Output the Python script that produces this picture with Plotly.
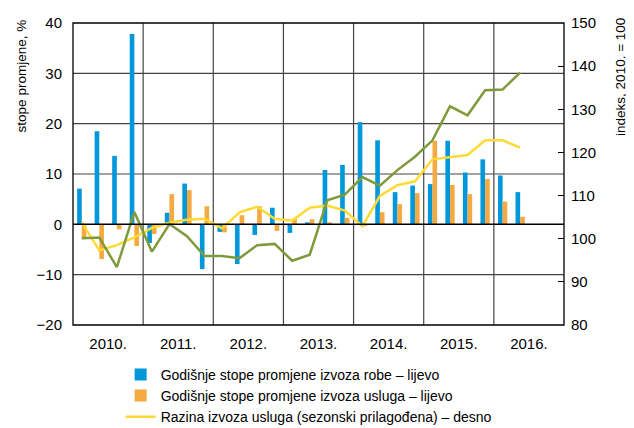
import plotly.graph_objects as go

# Quarters 2010 Q1 .. 2016 Q2
quarters = [
    "2010 Q1", "2010 Q2", "2010 Q3", "2010 Q4",
    "2011 Q1", "2011 Q2", "2011 Q3", "2011 Q4",
    "2012 Q1", "2012 Q2", "2012 Q3", "2012 Q4",
    "2013 Q1", "2013 Q2", "2013 Q3", "2013 Q4",
    "2014 Q1", "2014 Q2", "2014 Q3", "2014 Q4",
    "2015 Q1", "2015 Q2", "2015 Q3", "2015 Q4",
    "2016 Q1", "2016 Q2",
]
year_labels = ["2010.", "2011.", "2012.", "2013.", "2014.", "2015.", "2016."]
left_ticks = [-20, -10, 0, 10, 20, 30, 40]
right_ticks = [80, 90, 100, 110, 120, 130, 140, 150]

# Annual growth of goods exports (%), left axis
goods_growth = [7.1, 18.5, 13.6, 37.8,
                -3.7, 2.3, 8.1, -8.9,
                -1.5, -7.9, -2.1, 3.3,
                -1.7, 0.4, 10.8, 11.8,
                20.3, 16.7, 6.4, 7.7,
                8.0, 16.6, 10.3, 12.9,
                9.7, 6.4]
# Annual growth of services exports (%), left axis
services_growth = [-2.7, -6.9, -1.0, -4.3,
                   -1.9, 6.0, 6.8, 3.6,
                   -1.6, 1.8, 3.6, -1.3,
                   1.1, 1.0, 0.4, 1.3,
                   -0.3, 2.4, 4.0, 6.2,
                   16.6, 7.8, 6.0, 9.0,
                   4.5, 1.5]
# Level of services exports, seasonally adjusted (index 2010 = 100), right axis
services_level = [103.8, 97.3, 98.5, 100.3,
                  102.5, 103.7, 104.4, 104.6,
                  102.4, 106.1, 107.4, 104.6,
                  104.2, 107.2, 107.7, 106.5,
                  102.9, 109.9, 112.4, 113.3,
                  118.4, 118.9, 119.4, 122.8,
                  122.8, 121.1]
# Level of goods exports (index 2010 = 100), right axis
goods_level = [100.1, 100.3, 93.4, 106.2,
               97.0, 103.4, 100.6, 96.0,
               96.0, 95.5, 98.5, 98.8,
               94.9, 96.3, 108.9, 110.2,
               114.3, 112.3, 115.9, 119.0,
               122.8, 130.7, 128.6, 134.4,
               134.6, 138.5]

x = list(range(len(quarters)))
n_years = len(year_labels)
year_centers = [4 * k + 1.5 for k in range(n_years)]
year_bounds = [4 * k + 3.5 for k in range(n_years - 1)]

BLUE = "#0098DA"
ORANGE = "#F5A941"
YELLOW = "#FFDA35"
GREEN = "#7E9A3A"
GRID = "#444444"
FONT = "Liberation Sans, Arial, sans-serif"

fig = go.Figure()
fig.add_trace(go.Bar(x=x, y=goods_growth, name="Godišnje stope promjene izvoza robe – lijevo",
                     marker=dict(color=BLUE, line=dict(width=0)), hovertext=quarters))
fig.add_trace(go.Bar(x=x, y=services_growth, name="Godišnje stope promjene izvoza usluga – lijevo",
                     marker=dict(color=ORANGE, line=dict(width=0)), hovertext=quarters))
fig.add_trace(go.Scatter(x=x, y=services_level, yaxis="y2", mode="lines",
                         name="Razina izvoza usluga (sezonski prilagođena) – desno",
                         line=dict(color=YELLOW, width=2.5), hovertext=quarters))
fig.add_trace(go.Scatter(x=x, y=goods_level, yaxis="y2", mode="lines",
                         name="Razina izvoza robe – desno", showlegend=False,
                         line=dict(color=GREEN, width=2.5), hovertext=quarters))

# Grid lines and frame drawn as layout shapes
shapes = []
for v in left_ticks[1:-1]:
    if v == 0:
        continue
    shapes.append(dict(type="line", xref="paper", yref="y", x0=0, x1=1, y0=v, y1=v,
                       layer="below", line=dict(color=GRID, width=1.2)))
for b in year_bounds:
    shapes.append(dict(type="line", xref="x", yref="paper", x0=b, x1=b, y0=0, y1=1,
                       layer="below", line=dict(color=GRID, width=1.2)))
shapes.append(dict(type="line", xref="paper", yref="y", x0=0, x1=1, y0=0, y1=0,
                   layer="above", line=dict(color="black", width=1.5)))
shapes.append(dict(type="rect", xref="paper", yref="paper", x0=0, x1=1, y0=0, y1=1,
                   layer="above", line=dict(color="black", width=1.3)))
# decorative rule at the top of the figure
shapes.append(dict(type="line", xref="paper", yref="paper", x0=-0.124, x1=1.124,
                   y0=1.052, y1=1.052, line=dict(color="black", width=1)))

# The page body adds an 8px offset; the figure is sized to fit the 634x428 window.
fig.update_layout(
    width=626, height=420,
    margin=dict(l=65, r=70, t=15, b=103, autoexpand=False),
    paper_bgcolor="white", plot_bgcolor="white",
    font=dict(family=FONT, size=15, color="black"),
    barmode="group", bargap=0.47, bargroupgap=0,
    showlegend=True,
    legend=dict(orientation="v", x=0.097, xanchor="left", y=-0.112, yanchor="top",
                font=dict(size=14), bgcolor="rgba(0,0,0,0)", tracegroupgap=0,
                itemwidth=30),
    xaxis=dict(range=[-0.5, 4 * n_years - 0.5], tickmode="array",
               tickvals=year_centers, ticktext=year_labels,
               showgrid=False, zeroline=False, ticks="", showline=False,
               ticklabelstandoff=8, automargin=False),
    yaxis=dict(range=[left_ticks[0], left_ticks[-1]], tickmode="array",
               tickvals=left_ticks, showgrid=False, zeroline=False, showline=False,
               ticks="", ticklabelstandoff=10, automargin=False),
    yaxis2=dict(range=[right_ticks[0], right_ticks[-1]], tickmode="array",
                tickvals=right_ticks, overlaying="y", side="right",
                showgrid=False, zeroline=False, showline=False,
                ticks="inside", ticklen=6, tickcolor="black", tickwidth=1.2,
                ticklabelstandoff=6, automargin=False),
    shapes=shapes,
    annotations=[
        dict(text="stope promjene, %", xref="paper", yref="paper", x=-0.104, y=1.02,
             xanchor="center", yanchor="top", textangle=-90, showarrow=False,
             font=dict(size=13.5)),
        dict(text="indeks, 2010. = 100", xref="paper", yref="paper", x=1.115, y=1.025,
             xanchor="center", yanchor="top", textangle=-90, showarrow=False,
             font=dict(size=13.5)),
    ],
)

fig.write_html("out.html")
